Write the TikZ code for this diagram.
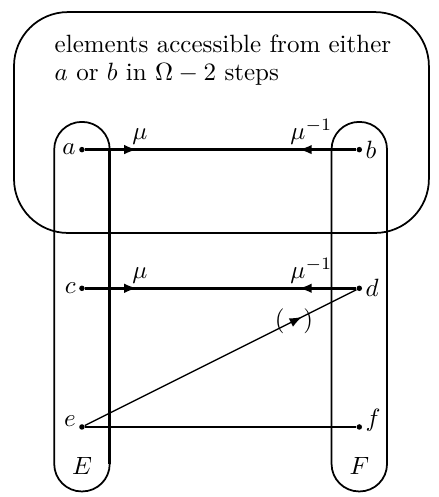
\documentclass[tikz,border=0pt]{standalone}
\usepackage{amsmath,amssymb}
\usetikzlibrary{decorations.markings,arrows.meta}

\tikzset{
  dot/.style={inner sep=0pt, circle, fill=black, minimum size=2.2pt},
  setbox/.style={line width=0.7pt, rounded corners=11pt},
  lab/.style={inner sep=0pt, anchor=base west},
  mumap/.style={postaction={decorate}, decoration={markings,
      mark=at position 0.19 with {\arrow[line width=0.6pt]{Latex[length=5pt,width=3.8pt]}},
      mark=at position 0.79 with {\arrowreversed[line width=0.6pt]{Latex[length=5pt,width=3.8pt]}}}},
}

\begin{document}
\begin{tikzpicture}[scale=1.95]
\useasboundingbox (-0.591,-0.505) rectangle (2.574,3.079);

% the region reached in Omega-2 steps
\draw[line width=0.7pt, rounded corners=21.6pt] (-0.49,1.399) rectangle (2.502,2.992);
\node[lab] (T1) at (-0.2,2.699) {elements accessible from either};
\node[lab] (T2) at (-0.2,2.502) {$a$ or $b$ in $\Omega-2$ steps};

% the two sets
\draw[setbox] (-0.2,-0.465) rectangle (0.2,2.2);
\draw[setbox] (1.8,-0.465) rectangle (2.2,2.2);
\draw[line width=1.2pt] (0.2,-0.267) -- (0.2,2.002);
\node (SE) at (0,-0.278) {$E$};
\node (SF) at (2,-0.278) {$F$};

\node[dot] (a) at (0,2) {};
\node[dot] (b) at (2,2) {};
\node[dot] (c) at (0,1) {};
\node[dot] (d) at (2,1) {};
\node[dot] (e) at (0,0) {};
\node[dot] (f) at (2,0) {};

\draw[mumap, line width=0.9pt] (a) -- (b);
\draw[mumap, line width=1.2pt] (c) -- (d);
\draw[line width=0.7pt] (e) -- (f);
\draw[line width=0.55pt, postaction={decorate}, decoration={markings,
    mark=at position 0.8 with {\arrow[line width=0.6pt]{Latex[length=5pt,width=3.8pt]}}}]
  (e) -- (d) node[pos=0.77] (P) {$(\hspace{7.5pt})$};

\node[left, inner sep=1pt] at (a.west) {$a$};
\node[right, inner sep=1pt] at (b.east) {$b$};
\node[left, inner sep=1pt] at (c.west) {$c$};
\node[right, inner sep=1pt] at (d.east) {$d$};
\node[anchor=base east, inner sep=1pt] at (e.west) {$e$};
\node[anchor=base west, inner sep=1pt] at (f.east) {$f$};

\node[lab] (M1) at (0.36,2.072) {$\mu$};
\node[lab] (M2) at (1.50,2.072) {$\mu^{-1}$};
\node[lab] (M3) at (0.36,1.072) {$\mu$};
\node[lab] (M4) at (1.50,1.072) {$\mu^{-1}$};
\end{tikzpicture}
\end{document}
